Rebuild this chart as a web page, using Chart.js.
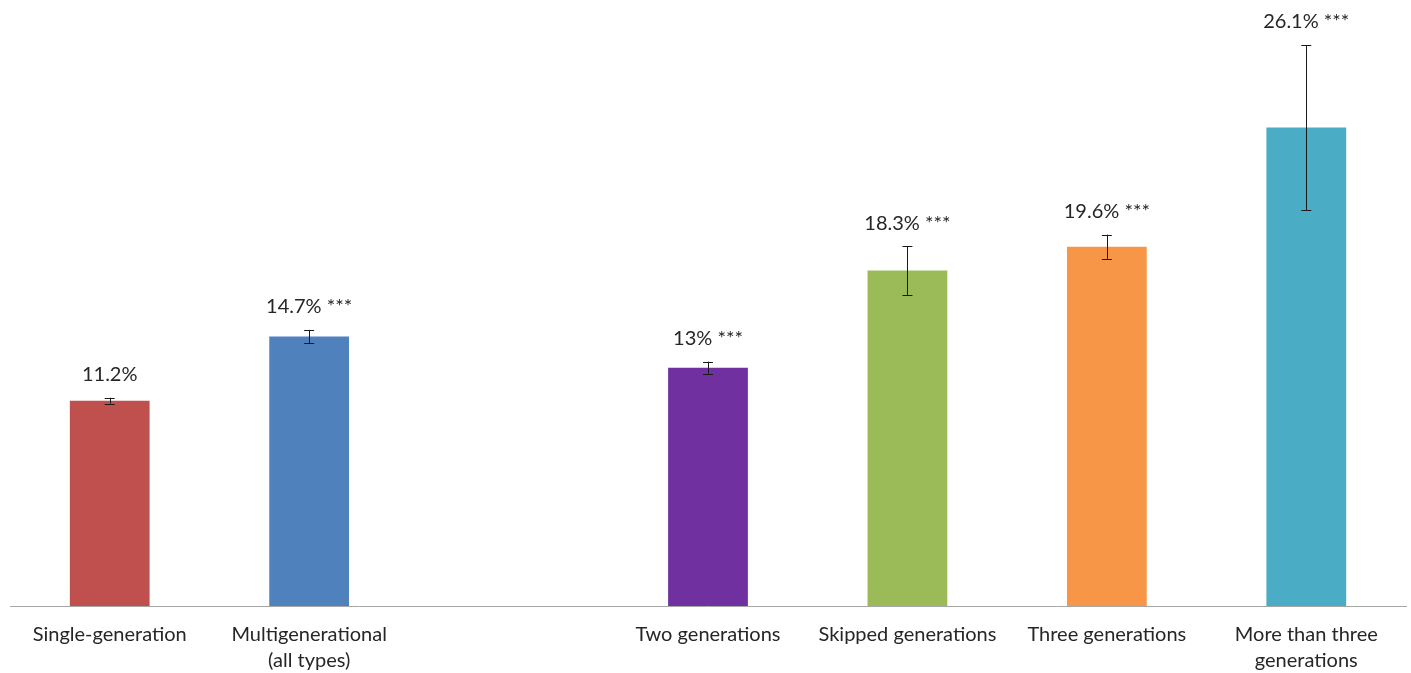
<!DOCTYPE html>
<html>
<head>
<meta charset="utf-8">
<script src="https://cdn.jsdelivr.net/npm/chart.js@4/dist/chart.umd.min.js"></script>
<style>
  html, body { margin: 0; padding: 0; background: #fff; }
  #wrap { width: 1411px; height: 673px; }
</style>
</head>
<body>
<div id="wrap"><canvas id="genChart" width="1411" height="673"></canvas></div>
<script>
// categories (empty slot between the two groups)
const categories = [
  'Single-generation',
  ['Multigenerational', '(all types)'],
  '',
  'Two generations',
  'Skipped generations',
  'Three generations',
  ['More than three', 'generations']
];
// percent values, null for the spacer slot
const values = [11.2, 14.7, null, 13.0, 18.3, 19.6, 26.1];
// half-width of the error bars, in percent points
const errors = [0.16, 0.36, null, 0.33, 1.33, 0.66, 4.5];
// significance stars
const stars = ['', '***', '', '***', '***', '***', '***'];
const barColors = ['#C0504D', '#4F81BD', '#ffffff', '#7030A0', '#9BBB59', '#F79646', '#4BACC6'];

const fontFamily = 'Lato, "Open Sans", sans-serif';

// error bars + value labels drawn from the scales
const errorBarPlugin = {
  id: 'errorBars',
  afterDatasetsDraw(chart) {
    const { ctx, scales: { x, y } } = chart;
    ctx.save();
    values.forEach((v, i) => {
      if (v === null) return;
      const cx = x.getPixelForValue(i);
      const top = y.getPixelForValue(v + errors[i]);
      const bot = y.getPixelForValue(v - errors[i]);
      ctx.strokeStyle = '#1a1a1a';
      ctx.lineWidth = 1;
      ctx.beginPath();
      ctx.moveTo(Math.round(cx) + 0.5, top);
      ctx.lineTo(Math.round(cx) + 0.5, bot);
      ctx.moveTo(cx - 5, Math.round(top) + 0.5);
      ctx.lineTo(cx + 5, Math.round(top) + 0.5);
      ctx.moveTo(cx - 5, Math.round(bot) + 0.5);
      ctx.lineTo(cx + 5, Math.round(bot) + 0.5);
      ctx.stroke();

      let txt = (Math.round(v * 10) / 10) + '%';
      if (stars[i]) txt += ' ' + stars[i];
      ctx.fillStyle = '#262626';
      ctx.font = '20px ' + fontFamily;
      ctx.textAlign = 'center';
      ctx.textBaseline = 'middle';
      ctx.fillText(txt, cx, top - 23);
    });
    ctx.restore();
  }
};

const ctx = document.getElementById('genChart').getContext('2d');
new Chart(ctx, {
  type: 'bar',
  data: {
    labels: categories,
    datasets: [{
      data: values,
      backgroundColor: barColors,
      barPercentage: 0.4,
      categoryPercentage: 1.0
    }]
  },
  options: {
    responsive: false,
    animation: false,
    layout: { padding: { left: 10, right: 5, top: 1, bottom: -17 } },
    plugins: {
      legend: { display: false },
      tooltip: { enabled: false }
    },
    scales: {
      x: {
        grid: { display: false, drawTicks: false },
        border: { display: true, color: '#a6a6a6', width: 1 },
        ticks: {
          color: '#262626',
          font: { family: fontFamily, size: 20, lineHeight: 1.3 },
          padding: 16,
          maxRotation: 0,
          autoSkip: false
        }
      },
      y: {
        display: false,
        min: 0,
        max: 33
      }
    }
  },
  plugins: [errorBarPlugin]
});
</script>
</body>
</html>
